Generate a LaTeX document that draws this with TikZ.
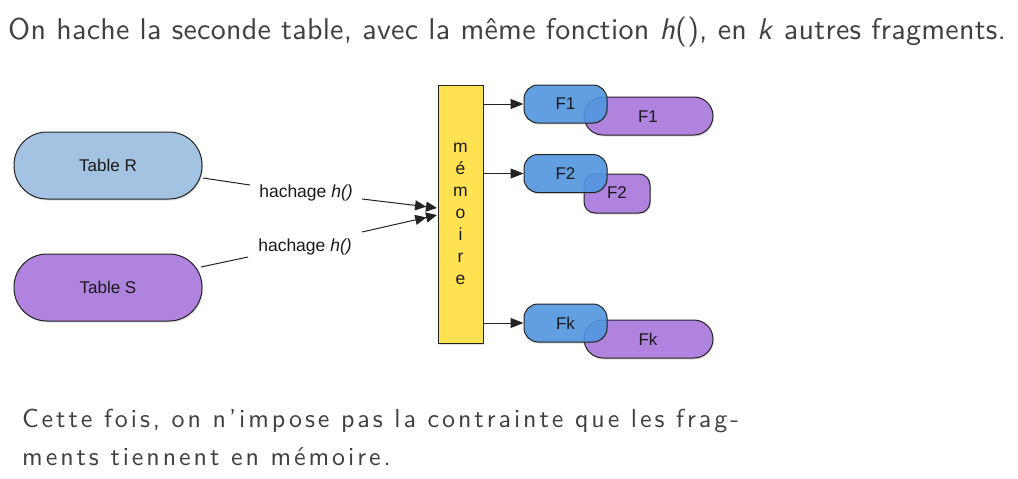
\documentclass[tikz,border=0pt]{standalone}
\usepackage{fontspec}
\newfontfamily\helv{Liberation Sans}
\newfontfamily\titlefont{lmsans10-regular.otf}[LetterSpace=0.9,ItalicFont=lmsans10-oblique.otf]
\newfontfamily\bodyfont{lmsans10-regular.otf}[LetterSpace=11.3]
\usetikzlibrary{arrows.meta,shadows}
\definecolor{txtgray}{RGB}{64,64,64}
\definecolor{tabR}{RGB}{164,195,226}
\definecolor{tabS}{RGB}{176,131,222}
\definecolor{fragB}{RGB}{80,150,226}
\definecolor{memY}{RGB}{255,226,82}
\definecolor{edge}{RGB}{35,35,35}
\definecolor{lbl}{RGB}{25,25,25}
\begin{document}
\begin{tikzpicture}[x=1pt,y=-1pt,
  shade/.style={drop shadow={shadow xshift=1pt,shadow yshift=-1.5pt,opacity=0.25}},
  lblfont/.style={font=\helv\fontsize{17}{19}\selectfont,text=lbl},
  tablebox/.style={draw=edge,line width=1pt,rounded corners=33pt,minimum width=188pt,minimum height=67pt,inner sep=0pt,lblfont,shade},
  purplefrag/.style={draw=edge,line width=1pt,fill=tabS,inner sep=0pt,shade},
  bluefrag/.style={draw=edge,line width=1pt,fill=fragB,fill opacity=0.88,text opacity=1,rounded corners=14pt,minimum width=83pt,minimum height=38pt,inner sep=0pt,shade,lblfont},
  fraglabel/.style={lblfont,inner sep=0pt},
  hlabel/.style={font=\helv\fontsize{17.5}{19}\selectfont,text=lbl,inner sep=0pt},
  conn/.style={draw=edge,line width=1pt},
  dbl/.style={conn,-{Triangle[length=11pt,width=10pt]Triangle[length=11pt,width=10pt]}},
  sgl/.style={conn,-{Triangle[length=13pt,width=10pt]}},
  toptext/.style={font=\titlefont\fontsize{30}{32}\selectfont,text=txtgray,inner sep=0pt,anchor=base west},
  bottext/.style={font=\bodyfont\fontsize{26}{30}\selectfont,text=txtgray,inner sep=0pt,anchor=base west}
]
\useasboundingbox (0,0) rectangle (1018,479);

\node[toptext] (title) at (8,39) {On hache la seconde table, avec la même fonction \textit{h}(), en \textit{k} autres fragments.};

% tables
\node[tablebox,fill=tabR] (tr) at (108,165.5) {Table R};
\node[tablebox,fill=tabS] (ts) at (108,287.5) {Table S};

% memory
\node[draw=edge,line width=1pt,fill=memY,minimum width=45pt,minimum height=258pt,inner sep=0pt,
      align=center,font=\helv\fontsize{17.5}{22}\selectfont,text=lbl,shade] (mem) at (460.5,214)
      {m\\é\\m\\o\\i\\r\\e};

% hash labels
\node[hlabel] (h1) at (306,193) {hachage \textit{h()}};
\node[hlabel] (h2) at (305,247) {hachage \textit{h()}};

\coordinate (r1) at (203,178);
\coordinate (r2) at (250,185);
\coordinate (a1s) at (362,199);
\coordinate (a1e) at (437,208);
\coordinate (s1) at (201,267);
\coordinate (s2) at (248,257);
\coordinate (a2s) at (362,232);
\coordinate (a2e) at (437,215);
\draw[conn] (r1) -- (r2);
\draw[dbl] (a1s) -- (a1e);
\draw[conn] (s1) -- (s2);
\draw[dbl] (a2s) -- (a2e);

% fragments: purple
\node[purplefrag,rounded corners=19pt,minimum width=129pt,minimum height=38pt] (p1) at (648.5,116) {};
\node[purplefrag,rounded corners=11pt,minimum width=66pt,minimum height=39pt] (p2) at (617,193.5) {};
\node[purplefrag,rounded corners=19pt,minimum width=129pt,minimum height=38pt] (pk) at (648.5,339) {};

% fragments: blue
\node[bluefrag] (b1) at (565.5,104) {F1};
\node[bluefrag] (b2) at (565.5,173.5) {F2};
\node[bluefrag] (bk) at (565.5,323) {Fk};

% purple labels on top
\node[fraglabel] (p1t) at (648,117) {F1};
\node[fraglabel] (p2t) at (617,193) {F2};
\node[fraglabel] (pkt) at (648,339) {Fk};

% arrows memory -> fragments
\draw[sgl] (mem.east |- b1) -- (b1.west);
\draw[sgl] (mem.east |- b2) -- (b2.west);
\draw[sgl] (mem.east |- bk) -- (bk.west);

\node[bottext] (c1) at (22,427) {Cette fois, on n’impose pas la contrainte que les frag-};
\node[bottext] (c2) at (22,465) {ments tiennent en mémoire.};
\end{tikzpicture}
\end{document}
